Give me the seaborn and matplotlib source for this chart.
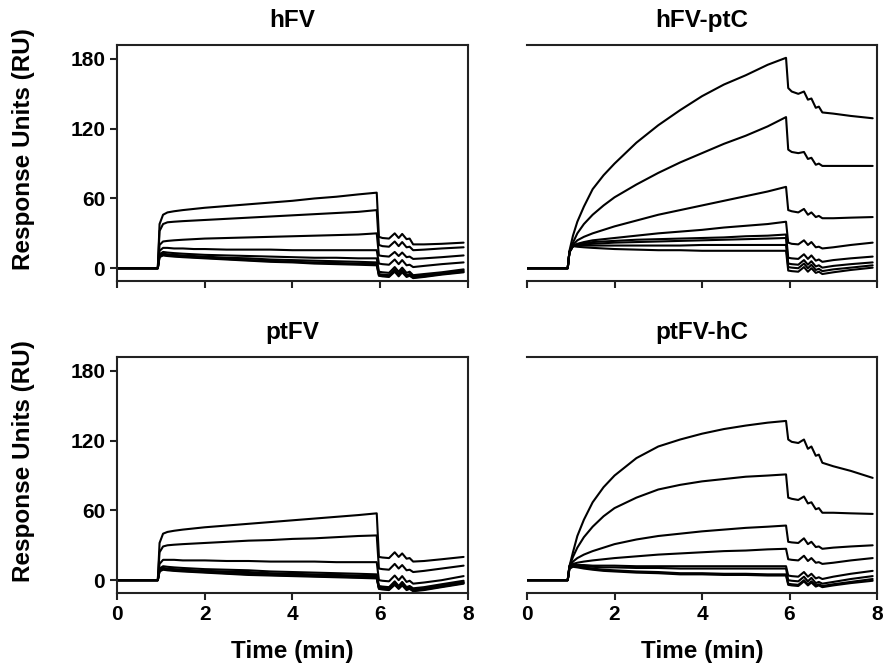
import matplotlib
matplotlib.use('Agg')

import numpy as np
import pandas as pd
import seaborn as sns
import matplotlib.pyplot as plt

# sample times (min) used for every sensorgram
times = [0, 0.93, 0.97, 1.05, 1.15, 1.3, 1.5, 1.75, 2.0, 2.5, 3.0, 3.5, 4.0, 4.5, 5.0, 5.5, 5.92,
         5.97, 6.05, 6.2, 6.33, 6.42, 6.5, 6.6, 6.67, 6.75, 7.0, 7.4, 7.9]

titles = ['hFV', 'hFV-ptC', 'ptFV', 'ptFV-hC']

# response units, one list per injected concentration
hfv = [
    [0, 0, 38, 46, 48, 49, 50, 51, 52, 53.5, 55, 56.5, 58, 60, 61.5, 63.5, 65, 27, 26, 25.5, 30, 26, 29.5, 25, 25.5, 20.5, 20.5, 21, 22],
    [0, 0, 32, 38, 39.5, 40, 40.5, 41, 41.5, 42.5, 43.5, 44.5, 45.5, 46.5, 47.5, 48.5, 50, 20, 19, 18.5, 23, 19, 22.5, 18, 18.5, 15.5, 16, 17, 18],
    [0, 0, 20, 23, 23.5, 24, 24.5, 25, 25.5, 26, 26.5, 27, 27.5, 28, 28.5, 29, 30, 11, 10.5, 10, 14, 10.5, 13.5, 9.5, 10, 8, 8.5, 9.5, 11],
    [0, 0, 15, 17.5, 17.5, 17, 17, 16.5, 16.5, 16, 16, 16, 15.5, 15.5, 15.5, 15.5, 15.5, 4, 3.5, 3, 7.5, 3.5, 7, 2.5, 3, 1, 2, 3.5, 5],
    [0, 0, 12, 14, 13.5, 13, 12.5, 12, 11.5, 11, 10.5, 10, 9.5, 9, 9, 8.5, 8.5, -3, -3.5, -4, 1, -3, 0.5, -4, -3, -6, -5, -3.5, -1],
    [0, 0, 11, 12.5, 12, 11.5, 11, 10.5, 10, 9, 8.5, 7.5, 7, 6.5, 6, 5.5, 5, -5, -5.5, -6, -1, -5, -1.5, -6, -5, -7, -6, -4.5, -2],
    [0, 0, 10, 11.5, 11, 10.5, 10, 9.5, 9, 8, 7, 6.5, 5.5, 5, 4.5, 4, 3.5, -6, -6.5, -7, -2, -6, -2.5, -7, -6, -8, -7, -5, -3],
    [0, 0, 9.5, 11, 10.5, 10, 9.5, 9, 8.5, 7.5, 6.5, 5.5, 5, 4, 3.5, 3, 2.5, -6.5, -7, -7.5, -3, -7, -3.5, -7.5, -6.5, -8.5, -7.5, -5.5, -3.5],
]

hfv_ptc = [
    [0, 0, 15, 28, 40, 53, 68, 80, 90, 108, 123, 136, 148, 158, 166, 175, 181, 155, 152, 150, 152, 145, 146, 138, 139, 134, 133, 131, 129],
    [0, 0, 14, 22, 30, 38, 46, 54, 61, 72, 82, 91, 99, 107, 114, 122, 130, 102, 100, 99, 100, 94, 95, 89, 90, 88, 88, 88, 88],
    [0, 0, 14, 20, 24, 27, 30, 33, 36, 41, 46, 50, 54, 58, 62, 66, 70, 50, 49, 48, 51, 46, 48, 44, 45, 43, 43, 43.5, 44],
    [0, 0, 14, 19, 21, 22.5, 24, 25, 26, 28, 30, 31.5, 33, 35, 36.5, 38, 40, 22, 21, 20.5, 24, 20, 22.5, 18, 18.5, 17, 18, 20, 22],
    [0, 0, 14, 19, 20.5, 21.5, 22.5, 23, 23.5, 24.5, 25, 25.5, 26, 26.5, 27.5, 28, 29, 9, 8.5, 8, 12, 8, 11, 6.5, 7.5, 5.5, 7, 8.5, 10],
    [0, 0, 14, 19, 20, 20.5, 21, 21.5, 22, 22.5, 23, 23.5, 24, 24.5, 25, 25.5, 26, 4, 3.5, 3, 7, 3, 6, 1.5, 2.5, 0.5, 2, 3.5, 5],
    [0, 0, 14, 19, 19.5, 19.5, 19.5, 19.5, 19.5, 19.5, 19.5, 19.5, 20, 20, 20, 20, 20, 1, 0.5, 0, 4, 0, 3, -1.5, -0.5, -2.5, -1, 0.5, 2.5],
    [0, 0, 14, 19, 18.5, 18, 17.5, 17, 16.5, 16, 15.5, 15.5, 15, 15, 15, 15, 15, -2, -2.5, -3, 1, -3, 0, -4, -3, -5, -3.5, -1.5, 0.5],
]

ptfv = [
    [0, 0, 32, 40, 41.5, 42.5, 43.5, 44.5, 45.5, 47, 48.5, 50, 51.5, 53, 54.5, 56, 57.5, 20, 19.5, 19, 24, 20, 23, 18.5, 19, 16, 16.5, 18, 20],
    [0, 0, 24, 29, 30, 30.5, 31, 31.5, 32, 33, 34, 34.5, 35.5, 36, 37, 38, 38.5, 10, 9.5, 9, 14, 10, 13, 8.5, 9, 7, 8, 10, 12.5],
    [0, 0, 14, 17.5, 17.5, 17.5, 17, 17, 17, 16.5, 16.5, 16, 16, 16, 15.5, 15.5, 15.5, 0, -0.5, -1, 4, 0, 3.5, -1.5, -0.5, -3, -2, 0, 3.5],
    [0, 0, 10, 12, 11.5, 11, 10.5, 10, 9.5, 9, 8.5, 7.5, 7, 6.5, 6, 5.5, 5, -5, -5.5, -6, -1, -5, -1.5, -6, -5, -7, -6, -3.5, -0.5],
    [0, 0, 9, 10.5, 10, 9.5, 9, 8.5, 8, 7.5, 7, 6, 5.5, 5, 4.5, 4, 3.5, -6, -6.5, -7, -2, -6, -2.5, -7, -6, -8, -7, -4.5, -1.5],
    [0, 0, 8.5, 10, 9.5, 9, 8.5, 8, 7.5, 6.5, 6, 5, 4.5, 4, 3.5, 3, 2.5, -6.5, -7, -7.5, -3, -6.5, -3, -7.5, -6.5, -8.5, -7.5, -5, -2],
    [0, 0, 8, 9.5, 9, 8.5, 8, 7.5, 7, 6, 5, 4.5, 4, 3.5, 3, 2.5, 2, -7, -7.5, -8, -3.5, -7, -4, -8, -7, -9, -8, -5.5, -2.5],
    [0, 0, 7.5, 9, 8.5, 8, 7.5, 7, 6.5, 5.5, 4.5, 4, 3.5, 3, 2.5, 2, 1.5, -7.5, -8, -8.5, -4, -7.5, -4.5, -8.5, -7.5, -9.5, -8.5, -6, -3],
]

ptfv_hc = [
    [0, 0, 12, 24, 38, 52, 67, 80, 90, 105, 115, 121, 126, 130, 133, 135.5, 137, 121, 119, 118, 121, 113, 115, 107, 108, 101, 98, 94, 88],
    [0, 0, 12, 20, 28, 37, 46, 55, 62, 71, 78, 82, 85, 87, 89, 90, 91, 71, 70, 69, 72, 66, 67, 61, 62, 58, 58, 57.5, 57],
    [0, 0, 12, 16, 19, 22, 25, 28, 31, 35, 38, 40, 42, 43.5, 45, 46, 47, 33, 32.5, 32, 36, 31, 33, 28.5, 29, 27, 28, 29, 30],
    [0, 0, 12, 14, 15, 16, 17, 18, 19, 20.5, 22, 23, 24, 25, 25.5, 26.5, 27, 18, 17.5, 17, 21, 16.5, 19, 15, 15.5, 14, 15, 17, 19],
    [0, 0, 11, 13, 13, 13, 12.5, 12.5, 12.5, 12, 12, 12, 12, 12, 12, 12, 12, 4, 3.5, 3, 7, 3, 5.5, 1.5, 2.5, 1, 3, 5.5, 8],
    [0, 0, 11, 12.5, 12.5, 12, 11.5, 11, 11, 10.5, 10.5, 10, 10, 10, 10, 10, 10, 0, -0.5, -1, 3, -1, 2, -2.5, -1.5, -3, -1.5, 1, 3.5],
    [0, 0, 10, 12, 11.5, 11, 10, 9, 8.5, 7.5, 7, 6, 6, 5.5, 5.5, 5, 5, -3, -3.5, -4, 0, -3.5, -1, -4.5, -3.5, -5, -3.5, -1.5, 1],
    [0, 0, 10, 11.5, 11, 10, 9, 8, 7.5, 6.5, 6, 5, 5, 4.5, 4.5, 4, 4, -4, -4.5, -5, -1, -4.5, -2, -5.5, -4.5, -6, -4.5, -2.5, -0.5],
]

panels = [hfv, hfv_ptc, ptfv, ptfv_hc]

sns.set_style("ticks")
plt.rcParams['font.family'] = ['Liberation Sans', 'DejaVu Sans']
plt.rcParams['font.weight'] = 'bold'
plt.rcParams['text.color'] = 'black'
plt.rcParams['axes.labelcolor'] = 'black'

fig = plt.figure(figsize=(8.85, 6.67), dpi=100)
# axes boxes in figure fractions: [left, bottom, width, height]
boxes = [[0.1322, 0.5787, 0.3966, 0.3538],
         [0.5955, 0.5787, 0.3955, 0.3538],
         [0.1322, 0.1110, 0.3966, 0.3538],
         [0.5955, 0.1110, 0.3955, 0.3538]]

for i, (curves, title, box) in enumerate(zip(panels, titles, boxes)):
    ax = fig.add_axes(box)
    rows = []
    for k, vals in enumerate(curves):
        for t, v in zip(times, vals):
            rows.append((k, t, v))
    df = pd.DataFrame(rows, columns=['conc', 'time', 'ru'])
    sns.lineplot(data=df, x='time', y='ru', hue='conc', units='conc', estimator=None,
                 sort=False, palette=['black'] * len(curves), legend=False,
                 linewidth=1.5, ax=ax)

    ax.set_xlim(0, 8)
    ax.set_ylim(-11, 192)
    ax.set_xticks([0, 2, 4, 6, 8])
    ax.set_yticks([0, 60, 120, 180])
    ax.set_title(title, fontsize=17.5, fontweight='bold', pad=13, color='black')
    for s in ax.spines.values():
        s.set_linewidth(1.5)
        s.set_color('#222222')
    ax.tick_params(axis='both', direction='out', length=5, width=1.5,
                   labelsize=15, colors='#222222', labelcolor='black')

    left = i % 2 == 0
    bottom = i >= 2
    if left:
        ax.set_ylabel('Response Units (RU)', fontsize=17.5, fontweight='bold')
        ax.yaxis.set_label_coords(-0.235, 0.56)
    else:
        ax.set_ylabel('')
        ax.spines['left'].set_visible(False)
        ax.tick_params(axis='y', left=False, labelleft=False)
    if bottom:
        ax.set_xlabel('Time (min)', fontsize=17.5, fontweight='bold')
        ax.xaxis.set_label_coords(0.5, -0.2)
    else:
        ax.set_xlabel('')
        ax.tick_params(axis='x', labelbottom=False)
    for lab in ax.get_xticklabels() + ax.get_yticklabels():
        lab.set_fontweight('bold')

fig.savefig('out.png', dpi=100)
